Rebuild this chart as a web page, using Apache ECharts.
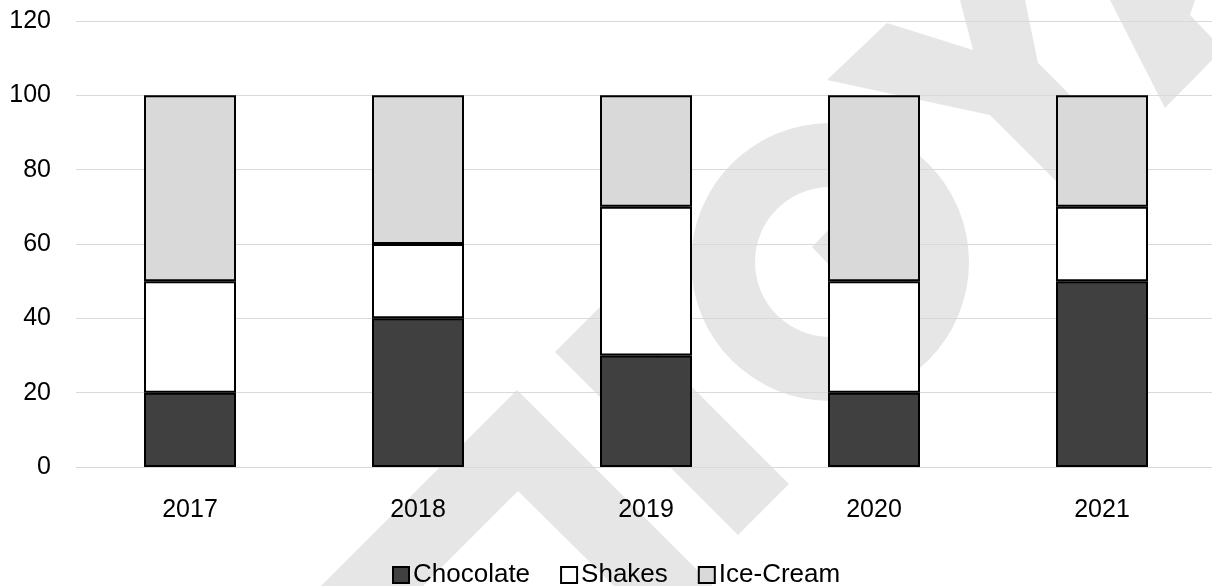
<!DOCTYPE html>
<html>
<head>
<meta charset="utf-8">
<script src="https://cdn.jsdelivr.net/npm/echarts@6/dist/echarts.min.js"></script>
<style>
html,body{margin:0;padding:0;background:#fff;overflow:hidden;}
#chart{width:1220px;height:586px;}
</style>
</head>
<body>
<div id="chart"></div>
<script>
const categories = ['2017', '2018', '2019', '2020', '2021'];
const chocolate = [20, 40, 30, 20, 50];
const shakes = [30, 20, 40, 30, 20];
const iceCream = [50, 40, 30, 50, 30];
const yTicks = [0, 20, 40, 60, 80, 100, 120];

const wm = '#e6e6e6';
function poly(points) {
  return { type: 'polygon', z: -10, silent: true, shape: { points: points }, style: { fill: wm } };
}

const chart = echarts.init(document.getElementById('chart'), null, { renderer: 'canvas' });
const font = 'Arial, "Liberation Sans", sans-serif';
const barStyle = (color) => ({ color: color, borderColor: '#000', borderWidth: 2 });

chart.setOption({
  backgroundColor: '#fff',
  animation: false,
  graphic: [
    { type: 'ring', z: -10, silent: true, shape: { cx: 830, cy: 262, r: 139, r0: 75 }, style: { fill: wm } },
    poly([[812, 247], [832, 226], [832, 268]]),
    poly([[555, 352], [606, 301], [789, 484], [738, 535]]),
    poly([[517, 390], [713, 586], [614, 586], [518, 491], [423, 586], [321, 586]]),
    poly([[827, 80], [887, 23], [973, 50], [960, 0], [1025, 0], [1038, 63], [1120, 145], [1070, 195], [990, 115]]),
    poly([[1110, 0], [1195, 0], [1190, 15], [1212, 38], [1212, 60], [1165, 108]])
  ],
  grid: { left: 76, top: 21, width: 1140, height: 446, containLabel: false },
  legend: {
    data: ['Chocolate', 'Shakes', 'Ice-Cream'],
    top: 557,
    left: 387,
    icon: 'rect',
    itemWidth: 16,
    itemHeight: 16,
    itemGap: 30,
    textStyle: { fontFamily: font, fontSize: 26, color: '#000', padding: [0, 0, 0, -1] }
  },
  xAxis: {
    type: 'category',
    data: categories,
    axisLine: { show: true, lineStyle: { color: '#d9d9d9', width: 1 } },
    axisTick: { show: false },
    axisLabel: { fontFamily: font, fontSize: 25, color: '#000', margin: 31 }
  },
  yAxis: {
    type: 'value',
    min: yTicks[0],
    max: yTicks[yTicks.length - 1],
    interval: 20,
    axisLine: { show: false },
    axisTick: { show: false },
    splitLine: { lineStyle: { color: '#d9d9d9', width: 1 } },
    axisLabel: { fontFamily: font, fontSize: 25, color: '#000', margin: 25, padding: [4, 0, 0, 0] }
  },
  series: [
    { name: 'Chocolate', type: 'bar', stack: 'total', data: chocolate, barWidth: 92, itemStyle: barStyle('#404040') },
    { name: 'Shakes', type: 'bar', stack: 'total', data: shakes, barWidth: 92, itemStyle: barStyle('#ffffff') },
    { name: 'Ice-Cream', type: 'bar', stack: 'total', data: iceCream, barWidth: 92, itemStyle: barStyle('#d9d9d9') }
  ]
});
</script>
</body>
</html>
